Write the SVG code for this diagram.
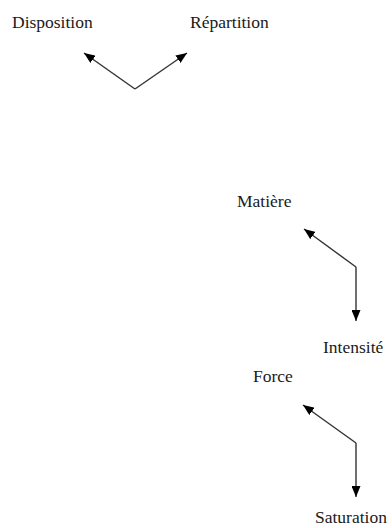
<svg xmlns="http://www.w3.org/2000/svg" width="392" height="528" viewBox="0 0 392 528">
<style>
.t{font-family:"Liberation Serif","Times New Roman",serif;font-size:17.5px;fill:#1a1a1a}
.c{stroke:#333;stroke-width:1.4;fill:none;marker-end:url(#ah)}
</style>
<defs>
<marker id="ah" viewBox="0 0 11 9" refX="11" refY="4.5" markerWidth="11" markerHeight="9" markerUnits="userSpaceOnUse" orient="auto">
<path d="M0,0 L11,4.5 L0,9 z" fill="#000"/>
</marker>
</defs>
<rect width="392" height="528" fill="#fff"/>
<g id="connectors">
<path class="c" d="M135,89 L84,53"/>
<path class="c" d="M135,89 L187,53"/>
<path class="c" d="M356,267 L304,229"/>
<path class="c" d="M356,267 L356,321"/>
<path class="c" d="M356,443 L303,405"/>
<path class="c" d="M356,443 L356,497"/>
</g>
<g id="disposition"><text class="t" x="12" y="28">Disposition</text></g>
<g id="repartition"><text class="t" x="190" y="28">Répartition</text></g>
<g id="matiere"><text class="t" x="237" y="207">Matière</text></g>
<g id="intensite"><text class="t" x="323" y="353">Intensité</text></g>
<g id="force"><text class="t" x="253" y="382">Force</text></g>
<g id="saturation"><text class="t" x="315" y="523">Saturation</text></g>
</svg>
